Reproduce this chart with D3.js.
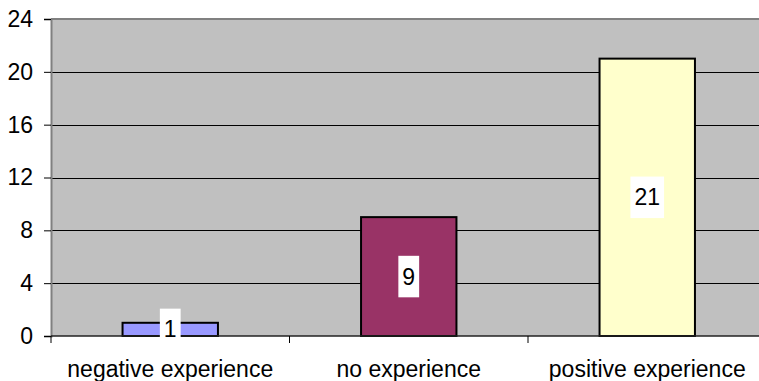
<!DOCTYPE html>
<html><head><meta charset="utf-8">
<script src="https://cdn.jsdelivr.net/npm/d3@7"></script>
<style>body{margin:0;background:#fff;}svg{display:block;}</style>
</head><body>
<svg id="c" width="759" height="381"></svg>
<script>
const categories = ["negative experience", "no experience", "positive experience"];
const values = [1, 9, 21];
const barColors = ["#9999FF", "#993366", "#FFFFCC"];
const yTicks = [0, 4, 8, 12, 16, 20, 24];

(function () {
const svg = d3.select("#c");
const pLeft = 51, pRight = 766.5, pTop = 19, pBottom = 336;
const font = "Liberation Sans, Arial, sans-serif";

const x = d3.scaleBand().domain(categories).range([pLeft, pRight]).paddingInner(0.6).paddingOuter(0.3);
const y = d3.scaleLinear().domain([0, 24]).range([pBottom, pTop]);

svg.append("rect").attr("x", pLeft).attr("y", pTop).attr("width", pRight - pLeft).attr("height", pBottom - pTop).attr("fill", "#C0C0C0");

svg.append("g").selectAll("line").data(yTicks.filter(t => t > 0 && t < 24)).join("line")
  .attr("x1", pLeft).attr("x2", pRight).attr("y1", d => Math.round(y(d)) + 0.5).attr("y2", d => Math.round(y(d)) + 0.5)
  .attr("stroke", "#000").attr("stroke-width", 1);
svg.append("line").attr("x1", pLeft).attr("x2", pRight).attr("y1", pTop).attr("y2", pTop).attr("stroke", "#808080").attr("stroke-width", 2);

svg.append("g").selectAll("rect").data(values).join("rect")
  .attr("x", (d, i) => x(categories[i])).attr("width", x.bandwidth())
  .attr("y", d => y(d)).attr("height", d => y(0) - y(d))
  .attr("fill", (d, i) => barColors[i]).attr("stroke", "#000").attr("stroke-width", 2);

const yAxis = d3.axisLeft(y).tickValues(yTicks).tickSize(7).tickPadding(11).tickFormat(d3.format("d"));
const gy = svg.append("g").attr("transform", `translate(${pLeft},0)`).call(yAxis);
gy.select(".domain").attr("stroke", "#808080").attr("stroke-width", 2);
gy.selectAll(".tick line").attr("stroke", "#000");
gy.selectAll(".tick text").attr("font-family", font).attr("font-size", 23).attr("fill", "#000");

const gx = svg.append("g").attr("transform", `translate(0,${pBottom})`);
gx.append("line").attr("x1", pLeft).attr("x2", pRight).attr("y1", 0).attr("y2", 0).attr("stroke", "#222").attr("stroke-width", 1.5);
const step = x.step();
const sepTicks = [0, 1, 2, 3].map(i => pLeft + i * step);
gx.selectAll("line.sep").data(sepTicks).join("line").attr("class", "sep")
  .attr("x1", d => d).attr("x2", d => d).attr("y1", 0).attr("y2", 7).attr("stroke", "#000");
gx.selectAll("text").data(categories).join("text")
  .attr("x", d => x(d) + x.bandwidth() / 2).attr("y", 41)
  .attr("text-anchor", "middle").attr("font-family", font).attr("font-size", 23).attr("fill", "#000").text(d => d);

const lg = svg.append("g");
values.forEach((v, i) => {
  const cx = x(categories[i]) + x.bandwidth() / 2;
  const cy = (y(v) + y(0)) / 2;
  const t = lg.append("text").attr("x", cx).attr("y", cy).attr("text-anchor", "middle").attr("dominant-baseline", "central")
    .attr("font-family", font).attr("font-size", 23).attr("fill", "#000").text(v);
  const w = t.node().getComputedTextLength() + 8;
  lg.insert("rect", "text").attr("x", cx - w / 2).attr("y", cy - 20.75).attr("width", w).attr("height", 41.5).attr("fill", "#fff");
});
})();
</script>
</body></html>
